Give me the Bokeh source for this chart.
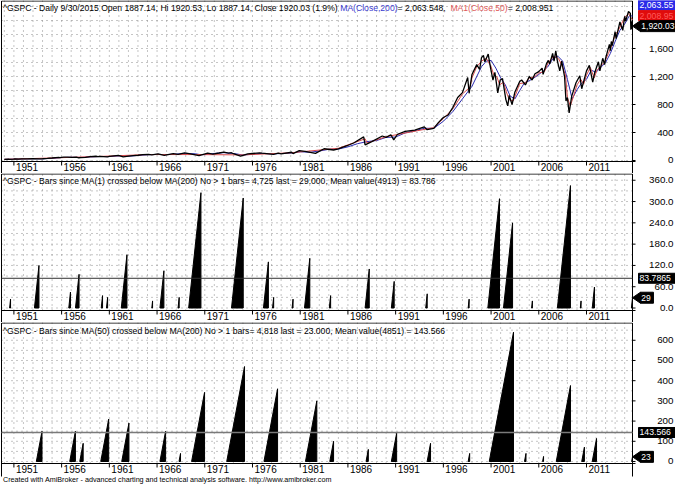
from bokeh.plotting import figure
from bokeh.layouts import column
from bokeh.models import Range1d
from bokeh.core.properties import value
from bokeh.embed import file_html
from bokeh.resources import INLINE

FONT = "Liberation Sans"

# ---------------- data ----------------
year_labels = [1951, 1956, 1961, 1966, 1971, 1976, 1981, 1986, 1991, 1996, 2001, 2006, 2011]
grid_years = list(range(1950, 2016))

price_t = [1950.0, 1950.45, 1950.55, 1950.95, 1951.1, 1951.5, 1951.8, 1952.0, 1952.4, 1952.95,
           1953.7, 1954.0, 1954.5, 1955.0, 1955.7, 1955.8, 1956.2, 1956.6, 1957.1, 1957.55,
           1957.8, 1958.0, 1958.5, 1959.0, 1959.6, 1959.8, 1960.0, 1960.8, 1961.0, 1961.95,
           1962.45, 1963.0, 1963.5, 1964.0, 1964.5, 1965.1, 1965.45, 1966.1, 1966.75, 1967.0,
           1967.7, 1968.2, 1968.9, 1969.5, 1970.4, 1971.3, 1971.85, 1972.5, 1973.0, 1973.5,
           1973.8, 1974.0, 1974.75, 1975.5, 1976.0, 1976.75, 1977.0, 1978.2, 1978.7, 1979.0,
           1980.1, 1980.25, 1980.9, 1981.5, 1982.6, 1983.5, 1984.5, 1985.0, 1985.9, 1986.6,
           1987.65, 1987.8, 1988.5, 1989.6, 1990.0, 1990.5, 1990.8, 1991.2, 1992.0, 1993.0,
           1994.0, 1994.3, 1995.0, 1995.5, 1996.0, 1996.5, 1997.0, 1997.5, 1998.0, 1998.55,
           1998.7, 1999.0, 1999.5, 1999.8, 2000.0, 2000.2, 2000.35, 2000.7, 2000.95, 2001.2,
           2001.4, 2001.7, 2001.95, 2002.2, 2002.55, 2002.75, 2002.9, 2003.2, 2003.5, 2004.0,
           2004.2, 2004.6, 2005.0, 2005.3, 2005.6, 2006.0, 2006.35, 2006.45, 2006.8, 2007.0,
           2007.15, 2007.45, 2007.6, 2007.78, 2007.95, 2008.2, 2008.4, 2008.7, 2008.85, 2009.0,
           2009.18, 2009.45, 2009.9, 2010.3, 2010.5, 2011.0, 2011.3, 2011.65, 2011.85, 2012.0,
           2012.25, 2012.4, 2012.7, 2012.9, 2013.0, 2013.4, 2013.5, 2013.6, 2013.7, 2014.0,
           2014.1, 2014.5, 2014.8, 2015.0, 2015.1, 2015.4, 2015.6, 2015.65, 2015.72, 2015.75,
           2015.82]
price_v = [16.7, 19.0, 17.4, 20.0, 22.0, 20.9, 23.5, 24.0, 23.3, 26.5,
           22.7, 25.0, 29.2, 35.9, 45.6, 41.0, 48.0, 49.5, 43.3, 49.1,
           39.0, 40.3, 45.0, 55.0, 60.7, 56.5, 59.9, 52.3, 58.0, 72.6,
           52.3, 63.0, 70.0, 75.0, 83.0, 87.0, 81.6, 94.0, 73.2, 80.4,
           97.6, 87.7, 108.4, 96.0, 69.3, 104.8, 90.2, 107.0, 120.2, 104.0,
           111.0, 97.0, 62.3, 95.0, 100.0, 107.8, 104.0, 86.9, 106.0, 96.1,
           118.0, 98.2, 140.5, 131.0, 102.4, 168.0, 150.0, 167.0, 211.0, 250.0,
           336.8, 224.0, 270.0, 350.0, 330.0, 368.0, 295.0, 375.0, 415.0, 435.0,
           480.0, 440.0, 460.0, 545.0, 615.0, 650.0, 760.0, 900.0, 970.0, 1185.0,
           960.0, 1230.0, 1370.0, 1300.0, 1470.0, 1500.0, 1410.0, 1520.0, 1320.0, 1150.0,
           1260.0, 965.0, 1150.0, 1170.0, 870.0, 780.0, 930.0, 800.0, 980.0, 1130.0,
           1150.0, 1080.0, 1200.0, 1150.0, 1240.0, 1270.0, 1320.0, 1230.0, 1380.0, 1430.0,
           1380.0, 1530.0, 1420.0, 1565.0, 1420.0, 1280.0, 1420.0, 1200.0, 850.0, 900.0,
           680.0, 920.0, 1110.0, 1210.0, 1025.0, 1280.0, 1360.0, 1120.0, 1250.0, 1310.0,
           1410.0, 1280.0, 1460.0, 1370.0, 1460.0, 1660.0, 1570.0, 1700.0, 1640.0, 1840.0,
           1740.0, 1980.0, 1860.0, 2060.0, 1990.0, 2130.0, 2100.0, 1870.0, 1990.0, 1880.0,
           1920.03]

ma200_t = [1950.0, 1951.0, 1952.0, 1953.0, 1954.0, 1955.0, 1956.0, 1957.0, 1958.0, 1959.0,
           1960.0, 1961.0, 1962.0, 1963.0, 1964.0, 1965.0, 1966.0, 1967.0, 1968.0, 1969.0,
           1970.0, 1970.5, 1971.0, 1972.0, 1973.0, 1974.0, 1974.5, 1975.0, 1976.0, 1977.0,
           1978.0, 1979.0, 1980.0, 1981.0, 1982.0, 1983.0, 1984.0, 1985.0, 1986.0, 1987.0,
           1988.0, 1989.0, 1990.0, 1991.0, 1992.0, 1993.0, 1994.0, 1995.0, 1996.0, 1997.0,
           1998.0, 1999.0, 2000.0, 2000.5, 2001.0, 2001.5, 2002.0, 2002.5, 2003.0, 2003.5,
           2004.0, 2004.5, 2005.0, 2005.5, 2006.0, 2006.5, 2007.0, 2007.5, 2008.0, 2008.5,
           2009.0, 2009.5, 2010.0, 2010.5, 2011.0, 2011.5, 2012.0, 2012.5, 2013.0, 2013.5,
           2014.0, 2014.5, 2015.0, 2015.5, 2015.82]
ma200_v = [16.0, 19.5, 22.5, 25.0, 24.5, 31.0, 42.0, 46.0, 43.0, 51.0,
           57.0, 56.0, 66.0, 61.0, 72.0, 82.0, 87.0, 84.0, 92.0, 100.0,
           96.0, 84.0, 84.0, 101.0, 112.0, 100.0, 90.0, 77.0, 90.0, 102.0,
           93.0, 100.0, 105.0, 125.0, 118.0, 135.0, 160.0, 163.0, 195.0, 240.0,
           270.0, 285.0, 330.0, 335.0, 395.0, 425.0, 460.0, 460.0, 560.0, 700.0,
           880.0, 1060.0, 1340.0, 1420.0, 1430.0, 1320.0, 1180.0, 1080.0, 920.0, 880.0,
           1000.0, 1110.0, 1140.0, 1180.0, 1230.0, 1280.0, 1350.0, 1460.0, 1490.0, 1420.0,
           1160.0, 880.0, 1010.0, 1110.0, 1160.0, 1290.0, 1260.0, 1330.0, 1400.0, 1530.0,
           1700.0, 1860.0, 1950.0, 2070.0, 2063.55]

ma50_t = [1950.0, 1955.0, 1960.0, 1965.0, 1970.0, 1975.0, 1980.0, 1985.0, 1987.8, 1988.0,
          1990.0, 1995.0, 1996.0, 1997.0, 1998.0, 1998.8, 1999.0, 1999.5, 2000.0, 2000.5,
          2001.0, 2001.3, 2001.6, 2001.9, 2002.3, 2002.6, 2002.9, 2003.3, 2003.6, 2004.0,
          2004.6, 2005.0, 2005.5, 2006.0, 2006.6, 2007.0, 2007.5, 2007.8, 2008.1, 2008.5,
          2008.8, 2009.0, 2009.3, 2009.6, 2010.0, 2010.4, 2010.7, 2011.0, 2011.4, 2011.8,
          2012.1, 2012.5, 2012.9, 2013.3, 2013.7, 2014.0, 2014.3, 2014.7, 2015.0, 2015.4,
          2015.82]
ma50_v = [16.5, 36.0, 58.0, 85.0, 85.0, 80.0, 110.0, 175.0, 310.0, 250.0,
          340.0, 470.0, 600.0, 740.0, 950.0, 1050.0, 1180.0, 1340.0, 1420.0, 1460.0,
          1340.0, 1220.0, 1200.0, 1080.0, 1120.0, 980.0, 870.0, 850.0, 950.0, 1100.0,
          1110.0, 1180.0, 1190.0, 1250.0, 1270.0, 1400.0, 1480.0, 1480.0, 1450.0, 1330.0,
          1220.0, 900.0, 780.0, 900.0, 1080.0, 1160.0, 1090.0, 1220.0, 1330.0, 1180.0,
          1290.0, 1350.0, 1410.0, 1530.0, 1660.0, 1800.0, 1850.0, 1960.0, 2040.0, 2100.0,
          2008.951]

# "bars since" episodes: start (decimal year) and peak count in bars
p2_start = [1950.55, 1953.15, 1956.75, 1957.45, 1960.15, 1960.7, 1962.25, 1965.45, 1966.3,
            1968.2, 1969.31, 1973.8, 1977.15, 1978.1, 1980.15, 1981.45, 1984.05, 1987.8,
            1990.55, 1994.15, 1998.6, 2000.66, 2002.3, 2005.25, 2007.95, 2010.35, 2011.6,
            2015.705]
p2_peak = [25, 120, 45, 95, 35, 30, 150, 20, 105,
           30, 325, 310, 130, 30, 25, 140, 35, 110,
           75, 40, 25, 308, 240, 20, 345, 20, 59,
           29]
p2_mean = 83.7865
p2_last = 29

p3_start = [1953.35, 1956.85, 1957.9, 1960.1, 1962.3, 1966.3, 1968.3, 1969.62, 1973.3,
            1977.2, 1981.55, 1984.1, 1987.9, 1990.55, 1994.3, 1998.6, 2000.81, 2004.5,
            2006.4, 2007.83, 2010.5, 2011.6, 2015.73]
p3_peak = [150, 150, 90, 210, 190, 150, 40, 342, 470,
           360, 300, 100, 60, 140, 90, 40, 640, 40,
           25, 376, 71, 114, 23]
p3_mean = 143.566
p3_last = 23

# ---------------- geometry ----------------
X_START, X_END = 1949.7, 2015.82
BARS_PER_YEAR = 252.0
W = 675
LEFT_PX, PLOT_W, RIGHT_PX = 1, 631, 43
DX = (X_END - X_START) / PLOT_W          # data units per pixel (x)

AW = {' ': 278, '^': 469, '-': 333, '/': 278, ',': 278, '.': 278, '(': 333, ')': 333,
      '%': 889, '=': 584, '>': 584, 'G': 778, 'S': 667, 'P': 667, 'C': 722, 'D': 722,
      'O': 778, 'H': 722, 'L': 556, 'M': 833, 'A': 667, 'B': 667, 'a': 556, 'i': 222,
      'l': 222, 'y': 500, 'p': 556, 'e': 556, 'n': 556, 'o': 556, 's': 500, 'r': 333,
      'c': 500, 'd': 556, 'b': 556, 'w': 722, 'N': 722, 't': 278, 'v': 500, 'u': 556,
      'm': 833, 'k': 500, 'g': 556, 'h': 556, 'f': 278, 'x': 500, ':': 278}


def text_w(s, size):
    return sum(AW.get(c, 556) for c in s) * size / 1000.0


class Pane:
    def __init__(self, height, plot_h, y0, y1, box_bottom_px):
        self.y0, self.y1 = y0, y1
        self.dy = (y1 - y0) / plot_h
        self.ylo = y1 - height * self.dy
        self.box_bottom = y0 - box_bottom_px * self.dy
        self.p = figure(width=W, height=height,
                        x_range=Range1d(X_START - LEFT_PX * DX, X_END + RIGHT_PX * DX),
                        y_range=Range1d(self.ylo, y1),
                        x_axis_type=None, y_axis_type=None,
                        output_backend="svg", toolbar_location=None,
                        min_border_left=0, min_border_right=0, min_border_top=0,
                        min_border_bottom=0, outline_line_color=None,
                        background_fill_color="white", border_fill_color="white")
        self.p.grid.visible = False

    def frame(self, tick_vals, tick_text, grid_step, top_line=True):
        p, dy = self.p, self.dy
        # dotted grid
        gvals = []
        g = 0.0
        while g <= self.y1:
            gvals.append(g)
            g += grid_step
        p.segment(x0=grid_years, y0=[self.y0] * len(grid_years), x1=grid_years,
                  y1=[self.y1] * len(grid_years), line_color="#8a8a8a", line_dash="1 4",
                  line_width=1)
        p.segment(x0=[X_START] * len(gvals), y0=gvals, x1=[X_END] * len(gvals), y1=gvals,
                  line_color="#8a8a8a", line_dash="1 4", line_width=1)
        # pane box
        top = self.y1 - 0.5 * dy
        p.segment(x0=[X_START, X_END], y0=[self.box_bottom] * 2, x1=[X_START, X_END],
                  y1=[top] * 2, line_color="black", line_width=1)
        if top_line:
            p.segment(x0=[X_START], y0=[top], x1=[X_END], y1=[top],
                      line_color="black", line_width=1)
        # x axis line, ticks, year labels
        p.segment(x0=[X_START], y0=[self.y0], x1=[X_END + 3 * DX], y1=[self.y0],
                  line_color="black", line_width=1)
        p.segment(x0=year_labels, y0=[self.y0] * len(year_labels), x1=year_labels,
                  y1=[self.y0 - 4 * dy] * len(year_labels), line_color="black", line_width=1)
        p.text(x=[y + 2 * DX for y in year_labels], y=[self.y0 - 1 * dy] * len(year_labels),
               text=[str(y) for y in year_labels], text_font=value(FONT),
               text_font_size=value("10px"), text_color="black",
               text_align="left", text_baseline="top")
        # right value axis: ticks and labels
        p.segment(x0=[X_END] * len(tick_vals), y0=tick_vals,
                  x1=[X_END + 3 * DX] * len(tick_vals), y1=tick_vals,
                  line_color="black", line_width=1)
        p.text(x=[X_END + 41 * DX] * len(tick_vals), y=tick_vals, text=tick_text,
               text_font=value(FONT), text_font_size=value("9.8px"), text_color="black",
               text_align="right", text_baseline="middle")

    def title(self, segments, size=8.6, top_px=2.5):
        x = X_START + 1.5 * DX
        for txt, col in segments:
            self.p.text(x=[x], y=[self.y1 - top_px * self.dy], text=[txt],
                        text_font=value(FONT), text_font_size=value(f"{size}px"),
                        text_color=col, text_align="left", text_baseline="top")
            x += text_w(txt, size) * DX

    def value_box(self, yv, txt, bg, fg="white", left_px=6, size=8.7):
        dy = self.dy
        self.p.quad(left=[X_END + left_px * DX], right=[X_END + (RIGHT_PX + 1) * DX],
                    bottom=[yv - 5 * dy], top=[yv + 5 * dy], fill_color=bg, line_color=bg)
        self.p.text(x=[X_END + (left_px + 1) * DX], y=[yv], text=[txt],
                    text_font=value(FONT), text_font_size=value(f"{size}px"),
                    text_color=fg, text_align="left", text_baseline="middle")

    def arrow_box(self, yv, txt, size=8.5, full=True):
        dy = self.dy
        self.p.patch(x=[X_END, X_END + 8 * DX, X_END + 8 * DX],
                     y=[yv, yv + 5.5 * dy, yv - 5.5 * dy], fill_color="black",
                     line_color="black")
        right = X_END + (RIGHT_PX + 1) * DX if full else X_END + (11.5 + text_w(txt, size)) * DX
        self.p.quad(left=[X_END + 8 * DX], right=[right], bottom=[yv - 5.5 * dy],
                    top=[yv + 5.5 * dy], fill_color="black", line_color="black")
        self.p.text(x=[X_END + 8.8 * DX], y=[yv], text=[txt], text_font=value(FONT),
                    text_font_size=value(f"{size}px"), text_color="white",
                    text_align="left", text_baseline="middle")

    def episodes(self, starts, peaks):
        xs, ys = [], []
        for s, h in zip(starts, peaks):
            e = s + h / BARS_PER_YEAR
            xs.append([s, e, e])
            ys.append([0, h, 0])
        self.p.patches(xs, ys, fill_color="black", line_color="black", line_width=1)

    def hline(self, yv, color, width):
        self.p.segment(x0=[X_START], y0=[yv], x1=[X_END], y1=[yv],
                       line_color=color, line_width=width)


# ---------------- pane 1: price ----------------
A = Pane(173, 161, -14.3, 2286, 12)
A.frame([0, 400, 800, 1200, 1600], ["0", "400", "800", "1,200", "1,600"], 200)
A.p.line(ma200_t, ma200_v, line_color="#2b2bb0", line_width=1)
A.p.line(ma50_t, ma50_v, line_color="#d84a4a", line_width=1)
A.p.line(price_t, price_v, line_color="black", line_width=1.3)
A.title([
    ("^GSPC - Daily 9/30/2015 Open 1887.14, Hi 1920.53, Lo 1887.14, Close 1920.03 (1.9%) ", "black"),
    ("MA(Close,200)", "#3a3ad0"),
    (" = 2,063.548, ", "black"),
    ("MA1(Close,50)", "#e05a5a"),
    (" = 2,008.951", "black")])
A.value_box(1920.03 + 21 * A.dy, "2,063.55", "#2a2ae8")
A.value_box(1920.03 + 10.5 * A.dy, "2,008.95", "#e00c0c", fg="#ff5a5a")
A.arrow_box(1920.03, "1,920.03")

# ---------------- pane 2 ----------------
B = Pane(149, 137, -7, 379, 12)
B.frame([0, 60, 120, 180, 240, 300, 360],
        ["0.0", "60.0", "120.0", "180.0", "240.0", "300.0", "360.0"], 30)
B.episodes(p2_start, p2_peak)
B.hline(p2_mean, "#303030", 1)
B.title([("^GSPC - Bars since MA(1) crossed below MA(200) No > 1 bars= 4,725 last  = 29.000,  Mean value(4913) = 83.786", "black")])
B.value_box(p2_mean, "83.7865", "black")
B.arrow_box(p2_last, str(p2_last), full=False)

# ---------------- pane 3 ----------------
C = Pane(164, 141, -9.9, 688, 13)
C.frame([0, 100, 200, 300, 400, 500, 600],
        ["0", "100", "200", "300", "400", "500", "600"], 50)
C.episodes(p3_start, p3_peak)
C.hline(p3_mean, "#7a7a7a", 1.5)
C.title([("^GSPC - Bars since MA(50) crossed below MA(200) No > 1 bars= 4,818 last  = 23.000,  Mean value(4851) = 143.566", "black")], top_px=3)
C.value_box(p3_mean, "143.566", "black")
C.arrow_box(p3_last, str(p3_last), full=False)
C.p.text(x=[X_START + 1.5 * DX], y=[C.ylo + 7 * C.dy],
         text=["Created with AmiBroker - advanced charting and technical analysis software. http://www.amibroker.com"],
         text_font=value(FONT), text_font_size=value("7.2px"), text_color="black",
         text_align="left", text_baseline="middle")

layout = column(A.p, B.p, C.p, spacing=0)
open("out.html", "w").write(file_html(layout, INLINE))
